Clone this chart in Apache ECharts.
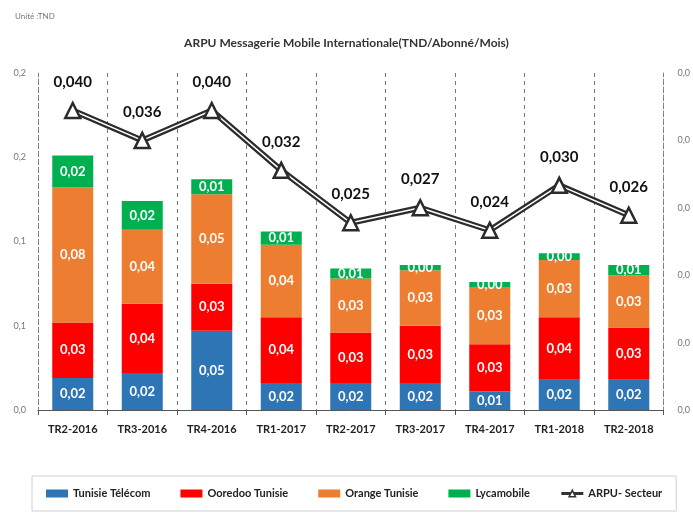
<!DOCTYPE html>
<html>
<head>
<meta charset="utf-8">
<script src="https://cdn.jsdelivr.net/npm/echarts@6/dist/echarts.min.js"></script>
<style>
  html, body { margin: 0; padding: 0; background: #fff; }
  #chart { width: 693px; height: 515px; }
</style>
</head>
<body>
<div id="chart"></div>
<script>
// 数据
const quarters = ['TR2-2016', 'TR3-2016', 'TR4-2016', 'TR1-2017', 'TR2-2017', 'TR3-2017', 'TR4-2017', 'TR1-2018', 'TR2-2018'];
const tunisieTelecom = [0.019, 0.022, 0.047, 0.016, 0.016, 0.016, 0.011, 0.018, 0.018];
const ooredoo = [0.033, 0.041, 0.028, 0.039, 0.030, 0.034, 0.028, 0.037, 0.031];
const orange = [0.080, 0.044, 0.053, 0.043, 0.032, 0.033, 0.034, 0.034, 0.031];
const lycamobile = [0.019, 0.017, 0.009, 0.008, 0.006, 0.003, 0.003, 0.004, 0.006];
const arpuSecteur = [0.040, 0.036, 0.040, 0.032, 0.025, 0.027, 0.024, 0.030, 0.026];
const leftTicks = ['0,0', '0,1', '0,1', '0,2', '0,2'];
const rightTicks = ['0,0', '0,0', '0,0', '0,0', '0,0', '0,0'];

const font = 'Lato, "Open Sans", sans-serif';
const comma = (v, d) => v.toFixed(d).replace('.', ',');

const chart = echarts.init(document.getElementById('chart'));

const barSeries = (name, data, color) => ({
  name: name,
  type: 'bar',
  stack: 'arpu',
  yAxisIndex: 0,
  barWidth: 41,
  data: data,
  itemStyle: { color: color },
  label: {
    show: true,
    position: 'inside',
    color: '#fff',
    fontFamily: font,
    fontSize: 13,
    fontWeight: 'bold',
    formatter: p => comma(p.value, 2)
  }
});

const option = {
  animation: false,
  backgroundColor: '#fff',
  title: [
    {
      text: 'Unité :TND',
      left: 10,
      top: 7,
      textStyle: { fontFamily: font, fontSize: 8, color: '#777', fontWeight: 'normal' }
    },
    {
      text: 'ARPU Messagerie Mobile Internationale(TND/Abonné/Mois)',
      left: 'center',
      top: 32,
      textStyle: { fontFamily: font, fontSize: 12, color: '#333', fontWeight: 'bold' }
    }
  ],
  grid: { left: 38, right: 26, top: 73, bottom: 105 },
  legend: {
    bottom: 4,
    left: 32,
    right: 8,
    padding: [12, 14],
    borderColor: '#d0d0d0',
    borderWidth: 1,
    itemWidth: 22,
    itemHeight: 8,
    itemGap: 30,
    textStyle: { fontFamily: font, fontSize: 11, fontWeight: 'bold', color: '#222' },
    data: [
      { name: 'Tunisie Télécom', icon: 'rect' },
      { name: 'Ooredoo Tunisie', icon: 'rect' },
      { name: 'Orange Tunisie', icon: 'rect' },
      { name: 'Lycamobile', icon: 'rect' },
      {
        name: 'ARPU- Secteur',
        itemStyle: { color: '#fff', borderColor: '#333', borderWidth: 1.5 },
        lineStyle: { color: '#333', width: 3 }
      }
    ]
  },
  xAxis: {
    type: 'category',
    data: quarters,
    axisLine: { lineStyle: { color: '#555', width: 1 } },
    axisTick: { show: true, lineStyle: { color: '#555' } },
    splitLine: { show: true, lineStyle: { color: '#777', type: [4, 4], width: 1 } },
    axisLabel: { fontFamily: font, fontSize: 11, fontWeight: 'bold', color: '#222', margin: 14 }
  },
  yAxis: [
    {
      type: 'value',
      min: 0,
      max: 0.2,
      interval: 0.05,
      axisLine: { show: true, lineStyle: { color: '#888', type: [3, 5] } },
      axisTick: { show: false },
      splitLine: { show: false },
      axisLabel: {
        fontFamily: font, fontSize: 9, color: '#777', margin: 12,
        formatter: (v, i) => leftTicks[i]
      }
    },
    {
      type: 'value',
      min: 0,
      max: 0.045,
      interval: 0.009,
      position: 'right',
      axisLine: { show: true, lineStyle: { color: '#888', type: [3, 5] } },
      axisTick: { show: false },
      splitLine: { show: false },
      axisLabel: {
        fontFamily: font, fontSize: 9, color: '#777', margin: 14,
        formatter: (v, i) => rightTicks[i]
      }
    }
  ],
  series: [
    barSeries('Tunisie Télécom', tunisieTelecom, '#2e75b6'),
    barSeries('Ooredoo Tunisie', ooredoo, '#ff0000'),
    barSeries('Orange Tunisie', orange, '#ed7d31'),
    barSeries('Lycamobile', lycamobile, '#00b050'),
    {
      name: 'outline',
      type: 'line',
      yAxisIndex: 1,
      data: arpuSecteur,
      symbol: 'none',
      z: 3,
      lineStyle: { color: '#2b2b2b', width: 6 },
      silent: true
    },
    {
      name: 'ARPU- Secteur',
      type: 'line',
      yAxisIndex: 1,
      data: arpuSecteur,
      z: 4,
      symbol: 'triangle',
      symbolSize: 15,
      lineStyle: { color: '#fff', width: 1.5 },
      itemStyle: { color: '#fff', borderColor: '#2b2b2b', borderWidth: 2.5 },
      label: {
        show: true,
        position: 'top',
        distance: 12,
        fontFamily: font,
        fontSize: 15,
        fontWeight: 'bold',
        color: '#111',
        formatter: p => comma(p.value, 3)
      }
    }
  ]
};

chart.setOption(option);
</script>
</body>
</html>
